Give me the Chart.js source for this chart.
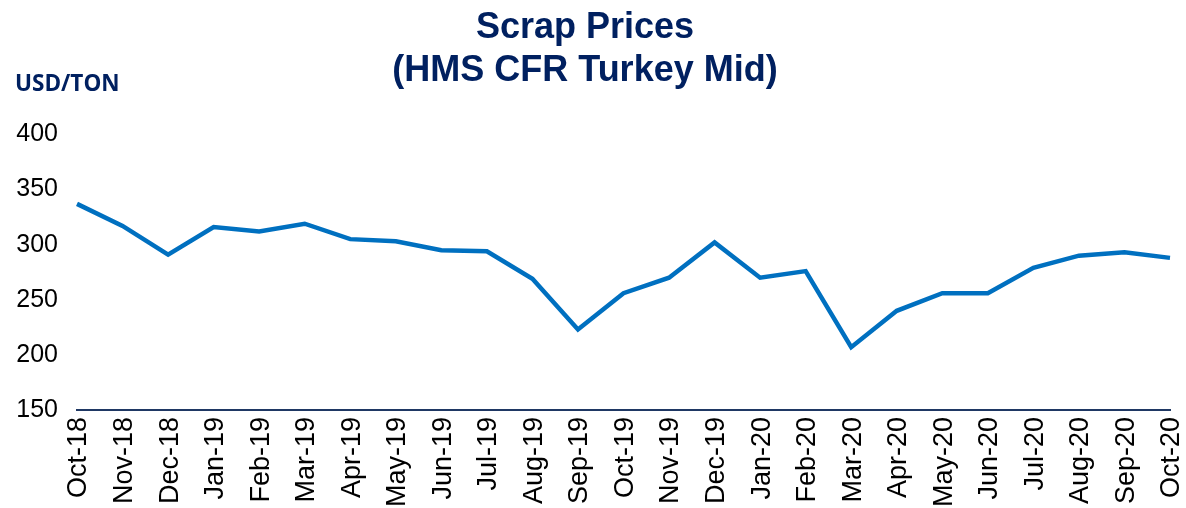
<!DOCTYPE html>
<html>
<head>
<meta charset="utf-8">
<script src="https://cdn.jsdelivr.net/npm/chart.js@4/dist/chart.umd.min.js"></script>
<style>
  html, body { margin: 0; padding: 0; background: #fff; }
  #wrap { position: relative; width: 1186px; height: 508px; }
  #unit { position: absolute; left: 15px; top: 68px; font-family: "Open Sans", sans-serif; font-weight: 700; font-size: 22.5px; color: #002060; line-height: 30px; }
</style>
</head>
<body>
<div id="wrap">
  <canvas id="c" width="1186" height="508"></canvas>
  <div id="unit">USD/TON</div>
</div>
<script>
const categories = ["Oct-18","Nov-18","Dec-18","Jan-19","Feb-19","Mar-19","Apr-19","May-19","Jun-19","Jul-19","Aug-19","Sep-19","Oct-19","Nov-19","Dec-19","Jan-20","Feb-20","Mar-20","Apr-20","May-20","Jun-20","Jul-20","Aug-20","Sep-20","Oct-20"];
const scrapPrices = [337, 317, 291, 316, 312, 319, 305, 303, 295, 294, 269, 223, 256, 270, 302, 270, 276, 207, 240, 256, 256, 279, 290, 293, 288];
const titleLines = ["Scrap Prices", "(HMS CFR Turkey Mid)"];
const yMin = 150, yMax = 400, yStep = 50;

new Chart(document.getElementById('c'), {
  type: 'line',
  data: {
    labels: categories,
    datasets: [{
      data: scrapPrices,
      borderColor: '#0070C0',
      borderWidth: 4.5,
      pointRadius: 0,
      tension: 0,
      fill: false
    }]
  },
  options: {
    responsive: false,
    animation: false,
    layout: { padding: { left: 0, right: 16, top: 0, bottom: 0 } },
    plugins: {
      legend: { display: false },
      tooltip: { enabled: false },
      title: {
        display: true,
        text: titleLines,
        color: '#002060',
        font: { family: 'Arial, "Liberation Sans", sans-serif', size: 36, weight: 'bold', lineHeight: 1.2 },
        padding: { top: 6, bottom: 42 }
      }
    },
    scales: {
      x: {
        offset: false,
        grid: { display: false, drawTicks: false },
        border: { display: true, color: '#1F3864', width: 2 },
        ticks: {
          autoSkip: false,
          maxRotation: 90,
          minRotation: 90,
          padding: 7,
          labelOffset: 2,
          color: '#000',
          font: { family: 'Arial, "Liberation Sans", sans-serif', size: 27 }
        },
        afterFit: (s) => { s.height = 98; s.paddingRight = 16; s.paddingLeft = 0; }
      },
      y: {
        min: yMin,
        max: yMax,
        grid: { display: false, drawTicks: false },
        border: { display: false },
        ticks: {
          stepSize: yStep,
          padding: 19,
          color: '#000',
          font: { family: 'Arial, "Liberation Sans", sans-serif', size: 25 }
        },
        afterFit: (s) => { s.width = 77; }
      }
    }
  }
});
</script>
</body>
</html>
